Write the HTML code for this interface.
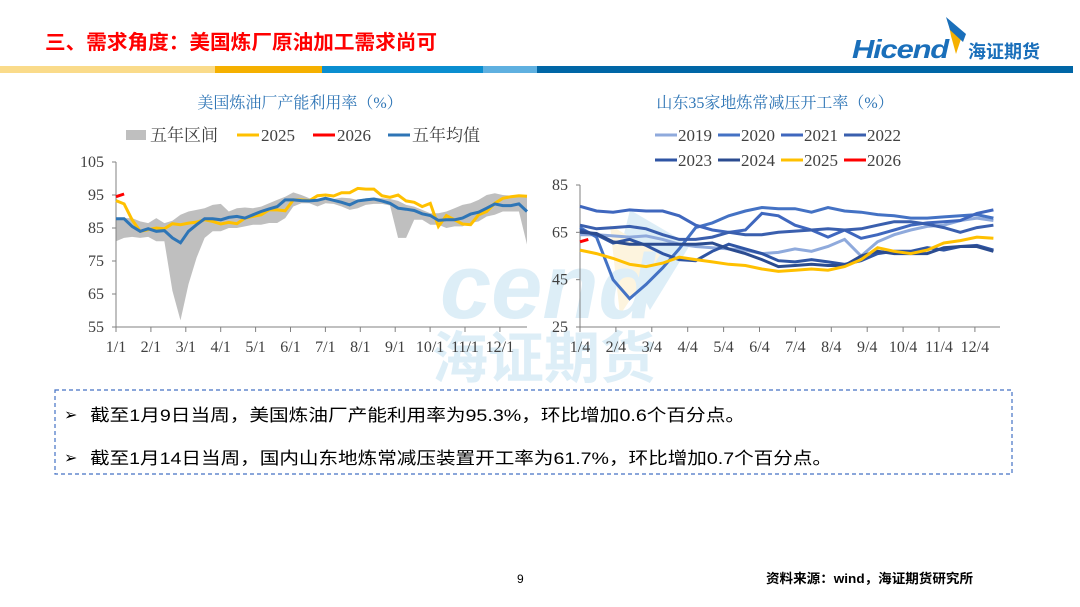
<!DOCTYPE html>
<html><head><meta charset="utf-8"><style>
html,body{margin:0;padding:0;background:#fff;}
svg{display:block;font-family:"Liberation Serif","Noto Serif CJK SC",serif;}
.cj{font-family:"Liberation Sans","Noto Sans CJK SC",sans-serif;}
.sf{font-family:"Liberation Serif","Noto Serif CJK SC",serif;}
</style></head><body>
<svg id="page" width="1080" height="607" viewBox="0 0 1080 607" xmlns="http://www.w3.org/2000/svg">
<text class="cj" x="45" y="49" font-size="20" fill="#FF0000" font-weight="bold" textLength="392" lengthAdjust="spacingAndGlyphs">三、需求角度：美国炼厂原油加工需求尚可</text>
<g>
<polygon points="948,20 962,36 956,54 951,36" fill="#F5B000"/>
<polygon points="946,17 966,34 963,42 950,30" fill="#1A6FBA"/>
<text class="cj" x="852" y="58" font-size="26" font-weight="bold" font-style="italic" fill="#1A6FBA" letter-spacing="-1" textLength="96" lengthAdjust="spacingAndGlyphs">Hicend</text>
<text class="cj" x="968" y="58" font-size="18" font-weight="bold" fill="#1A6FBA">海证期货</text>
</g>
<g>
<rect x="0" y="66" width="215" height="7" fill="#FADB8A"/>
<rect x="215" y="66" width="107" height="7" fill="#F5B000"/>
<rect x="322" y="66" width="161" height="7" fill="#0A8ED0"/>
<rect x="483" y="66" width="54" height="7" fill="#5FB0E0"/>
<rect x="537" y="66" width="536" height="7" fill="#0066A6"/>
</g>
<g opacity="0.18">
<polygon points="630,210 690,245 650,310 620,250" fill="#4BA3D8"/>
<polygon points="610,225 660,255 620,315" fill="#F5C84C"/>
<text class="cj" x="440" y="318" font-size="92" font-weight="bold" font-style="italic" fill="#4BA3D8">cend</text>
<text class="cj" x="432" y="378" font-size="56" font-weight="bold" fill="#4BA3D8">海证期货</text>
</g>
<text class="sf" x="300" y="108" font-size="16" fill="#2E75B6" text-anchor="middle">美国炼油厂产能利用率（%）</text>
<text class="sf" x="775" y="108" font-size="16" fill="#2E75B6" text-anchor="middle">山东35家地炼常减压开工率（%）</text>
<g id="left"></g>
<g id="right"></g>
<rect x="55" y="390" width="957" height="84" fill="none" stroke="#4472C4" stroke-width="1.2" stroke-dasharray="4,3"/>
<text class="cj" x="64" y="420" font-size="16" fill="#000">➢</text>
<text class="cj" x="90" y="421" font-size="17" fill="#000" textLength="655" lengthAdjust="spacingAndGlyphs">截至1月9日当周，美国炼油厂产能利用率为95.3%，环比增加0.6个百分点。</text>
<text class="cj" x="64" y="463" font-size="16" fill="#000">➢</text>
<text class="cj" x="90" y="464" font-size="17" fill="#000" textLength="742" lengthAdjust="spacingAndGlyphs">截至1月14日当周，国内山东地炼常减压装置开工率为61.7%，环比增加0.7个百分点。</text>
<text class="cj" x="517" y="583" font-size="12" fill="#000">9</text>
<text class="cj" x="766" y="583" font-size="13" font-weight="bold" fill="#000" textLength="207" lengthAdjust="spacingAndGlyphs">资料来源：wind，海证期货研究所</text>
</svg>
<script>
// ---- left chart data (weekly, 52 weeks) ----
const leftTicks = [55,65,75,85,95,105];
const leftCats = ["1/1","2/1","3/1","4/1","5/1","6/1","7/1","8/1","9/1","10/1","11/1","12/1"];
const bandUpper = [88,88,88,87,86.5,88,86.5,87.2,89,90,90.5,91,92,92.3,90,91,91.2,91,91.5,92.5,93.5,94.5,95.8,95,94,93.5,93.5,93.8,94.2,94,93.5,94,94.2,94,93.8,93.2,92,91.5,90.5,89.5,89.5,90,91,92,92.5,93.5,95,95.5,95,94.8,94.8,94.8];
const bandLower = [81,82,82.3,82,82.3,81,81,66,57,68,76,82,84,84,85,85,85.5,86,86,86.5,86.5,88,91.5,92.5,92.5,91.5,92.5,92.3,91.5,90.5,91,92,92.3,92.3,91.8,82,82,87.5,87.5,86,86,85,85.5,85.5,86.5,87,88.5,89,90,90,90,80];
const avg5 = [87.8,87.8,85.5,84,84.8,84,84.2,82,80.5,84,86,87.8,87.8,87.5,88.2,88.5,88,89,90,90.8,91.5,93.5,93.5,93.3,93.2,93.4,94,93.4,92.8,92,93.2,93.5,93.8,93.2,92.5,91,90.7,90.3,89.3,88.8,87.3,87.5,87.5,88,89.2,89.8,91,92.3,91.8,91.8,92.3,90];
const us2025 = [93.3,92.3,87.5,84,84.5,85,84.8,86.3,86,86.5,86.8,87.5,87,86.2,86.7,86.3,88,88.5,89,90.5,90.5,90.2,93.5,93.5,93.3,94.8,95,94.7,95.7,95.7,97,96.8,96.8,94.8,94.3,95,93.2,92.8,91.5,92.5,85.5,88.8,87.5,86.2,86,89,90,92.5,94,94.5,94.8,94.6];
const us2026 = [94.5,95.3];
// ---- right chart data (biweekly, week index 0..50) ----
const rightTicks = [25,45,65,85];
const rightCats = ["1/4","2/4","3/4","4/4","5/4","6/4","7/4","8/4","9/4","10/4","11/4","12/4"];
const sd2019 = [64,64,63.5,63,63.5,62,60,59,58.5,58,57.5,56,56.5,58,57,59,62,55,61,64,66,67.5,68,70,71,70];
const sd2020 = [67,63,45,37,43,50,58,67,69,72,74,75.5,75,75,73.5,75.5,74,73.5,72.5,72,71,71,71.5,72,72.5,71];
const sd2021 = [76,74,73.5,74.5,74,74,72,68,66,65,66,73,72,68,66,63,66,62.5,64,66,68,69,69.5,70,73,74.5];
const sd2022 = [68,66.5,67,67.5,66.5,64,62,62,63,65,64,64,65,65.5,66,66.5,66,66.5,68,69.5,69.5,68.5,67,65,67,68];
const sd2023 = [66,64,60.5,62,59.5,56,53.5,53,57,60,58,56,53,52.5,53.5,52.5,51.5,53,56,57,57,58.5,57.5,59,59.5,57.5];
const sd2024 = [65,64.5,61,60,60,60,60,60,60.5,58,56,53.5,50.5,51,51.5,51,51,55,57,56,56,56,58.5,59,59,57];
const sd2025 = [57.5,56,54,51.5,50.5,52,54.5,53.5,52.5,51.5,51,49.5,48.5,49,49.5,49,50.5,53.5,58.5,57,56,57.5,60.5,61.5,63,62.5];
const sd2026 = [61,62];

const NS="http://www.w3.org/2000/svg";
function mk(parent,tag,attrs){const e=document.createElementNS(NS,tag);for(const k in attrs)e.setAttribute(k,attrs[k]);parent.appendChild(e);return e;}
function pts(arr,fx,fy,step){return arr.map((v,i)=>fx(i*step).toFixed(1)+","+fy(v).toFixed(1)).join(" ");}

// LEFT
(function(){
  const g=document.getElementById('left');
  const x0=116,x1=527,y0=327,y1=162,vmin=55,vmax=105;
  const fx=w=>x0+w*(x1-x0)/51;
  const fy=v=>y0-(v-vmin)/(vmax-vmin)*(y0-y1);
  const band=mk(g,'polygon',{points:pts(bandUpper,fx,fy,1)+" "+bandLower.map((v,i)=>fx(i)+","+fy(v)).reverse().join(" "),fill:"#BFBFBF"});
  
  
  const ax=mk(g,'path',{d:`M${x0},${y1} V${y0} H${x1}`,stroke:"#808080",fill:"none","stroke-width":1});
  
  
  leftTicks.forEach(t=>{
    mk(g,'line',{x1:x0-4,x2:x0,y1:fy(t),y2:fy(t),stroke:"#808080"});
    const tx=mk(g,'text',{x:x0-12,y:fy(t)+5,"font-size":16,"text-anchor":"end",fill:"#404040"});
    tx.textContent=t;
    
    
  });
  leftCats.forEach((c,i)=>{
    const px=x0+i*34.9;
    mk(g,'line',{x1:px,x2:px,y1:y0,y2:y0+5,stroke:"#808080"});
    const tx=mk(g,'text',{x:px,y:y0+25,"font-size":16,"text-anchor":"middle",fill:"#404040"});
    tx.textContent=c;
    
    
  });
  const ly=mk(g,'polyline',{points:pts(us2025,fx,fy,1),fill:"none",stroke:"#FFC000","stroke-width":3});
  
  
  const lb=mk(g,'polyline',{points:pts(avg5,fx,fy,1),fill:"none",stroke:"#2E75B6","stroke-width":3});
  
  
  const lr=mk(g,'polyline',{points:pts(us2026,fx,fy,1),fill:"none",stroke:"#FF0000","stroke-width":3});
  
  
  const leg=[["五年区间","#BFBFBF",true,126],["2025","#FFC000",false,237],["2026","#FF0000",false,313],["五年均值","#2E75B6",false,388]];
  leg.forEach(([n,c,box,x])=>{
    const lg=mk(g,'g',{});
    
    
    if(box) mk(lg,'rect',{x:x,y:130,width:20,height:10,fill:c});
    else mk(lg,'line',{x1:x,x2:x+22,y1:135,y2:135,stroke:c,"stroke-width":3});
    const t=mk(lg,'text',{x:x+24,y:141,"font-size":17,fill:"#404040"});
    t.textContent=n;
  });
})();

// RIGHT
(function(){
  const g=document.getElementById('right');
  const x0=580,x1=1000,y0=327,y1=185,vmin=25,vmax=85;
  const fx=w=>x0+w*(x1-x0)/50.8;
  const fy=v=>y0-(v-vmin)/(vmax-vmin)*(y0-y1);
  const ax=mk(g,'path',{d:`M${x0},${y1} V${y0} H${x1}`,stroke:"#808080",fill:"none"});
  
  
  rightTicks.forEach(t=>{
    mk(g,'line',{x1:x0-4,x2:x0,y1:fy(t),y2:fy(t),stroke:"#808080"});
    const tx=mk(g,'text',{x:x0-12,y:fy(t)+5,"font-size":16,"text-anchor":"end",fill:"#404040"});
    tx.textContent=t;
    
    
  });
  rightCats.forEach((c,i)=>{
    const px=x0+i*35.9;
    mk(g,'line',{x1:px,x2:px,y1:y0,y2:y0+5,stroke:"#808080"});
    const tx=mk(g,'text',{x:px,y:y0+25,"font-size":16,"text-anchor":"middle",fill:"#404040"});
    tx.textContent=c;
    
    
  });
  const series=[[sd2019,"#8FAADC","2019",2],[sd2020,"#4472C4","2020",2],[sd2021,"#3F67BE","2021",2],[sd2022,"#3A5FAE","2022",2],[sd2023,"#2F55A4","2023",2],[sd2024,"#2B4C90","2024",2],[sd2025,"#FFC000","2025",2],[sd2026,"#FF0000","2026",1]];
  series.forEach(([d,c,n,step])=>{
    const l=mk(g,'polyline',{points:pts(d,fx,fy,step),fill:"none",stroke:c,"stroke-width":3});
    
    
  });
  series.forEach(([d,c,n],i)=>{
    const x=655+(i%4)*63, y=i<4?135:160;
    const lg=mk(g,'g',{});
    
    
    mk(lg,'line',{x1:x,x2:x+22,y1:y,y2:y,stroke:c,"stroke-width":3});
    const t=mk(lg,'text',{x:x+23,y:y+6,"font-size":17,fill:"#404040"});
    t.textContent=n;
  });
})();
</script>
</body></html>
